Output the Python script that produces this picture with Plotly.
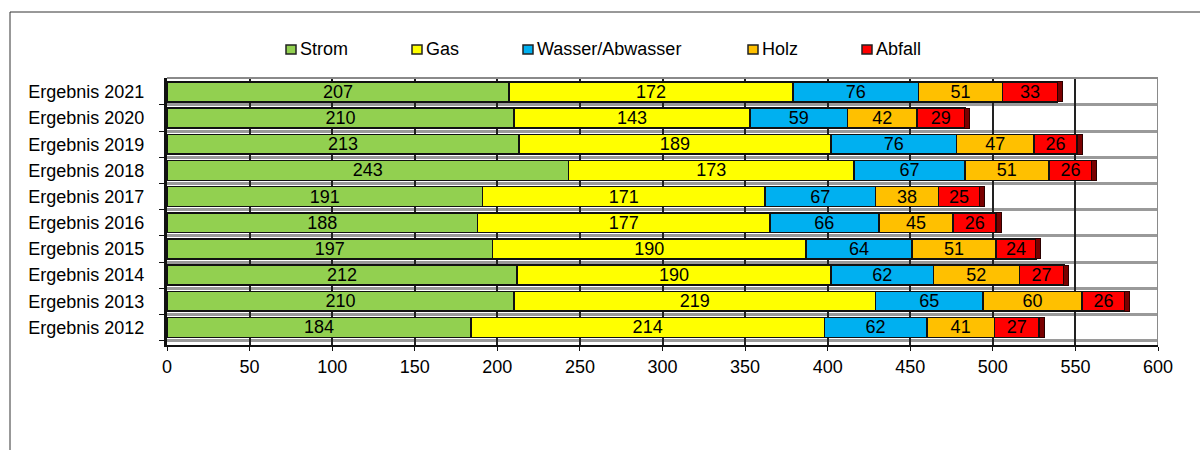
import plotly.graph_objects as go

# Jahresergebnisse, unten beginnend (2012) bis oben (2021)
jahre = ["Ergebnis 2012", "Ergebnis 2013", "Ergebnis 2014", "Ergebnis 2015",
         "Ergebnis 2016", "Ergebnis 2017", "Ergebnis 2018", "Ergebnis 2019",
         "Ergebnis 2020", "Ergebnis 2021"]

strom = [184, 210, 212, 197, 188, 191, 243, 213, 210, 207]
gas = [214, 219, 190, 190, 177, 171, 173, 189, 143, 172]
wasser = [62, 65, 62, 64, 66, 67, 67, 76, 59, 76]
holz = [41, 60, 52, 51, 45, 38, 51, 47, 42, 51]
abfall = [27, 26, 27, 24, 26, 25, 26, 26, 29, 33]

x_ticks = [0, 50, 100, 150, 200, 250, 300, 350, 400, 450, 500, 550, 600]

serien = [
    ("Strom", strom, "#92d050"),
    ("Gas", gas, "#ffff00"),
    ("Wasser/Abwasser", wasser, "#00b0f0"),
    ("Holz", holz, "#ffc000"),
    ("Abfall", abfall, "#ff0000"),
]

pos = list(range(len(jahre)))
FONT = "Liberation Sans, Arial, sans-serif"
FS = 18

# Plotbereich in Pixeln (für die Umrechnung der Legende in Papierkoordinaten)
L, R, T, B = 167, 42, 78, 105
PW, PH = 1200 - L - R, 450 - T - B


def px_x(p):
    return (p - L) / PW


def px_y(p):
    return (450 - B - p) / PH


fig = go.Figure()
for name, werte, farbe in serien:
    fig.add_trace(go.Bar(
        name=name, y=pos, x=werte, orientation="h",
        marker=dict(color=farbe, line=dict(color="#111111", width=1.5)),
        width=0.76, showlegend=False,
        text=[str(v) for v in werte], textposition="inside",
        insidetextanchor="middle", textangle=0, constraintext="none",
        textfont=dict(family=FONT, size=FS, color="#000000"),
    ))

# dunkle Seitenfläche am Ende jedes Balkens (Tiefeneffekt)
summen = [sum(t) for t in zip(strom, gas, wasser, holz, abfall)]
fig.add_trace(go.Bar(
    y=pos, x=[3] * len(pos), base=summen, orientation="h",
    marker=dict(color="#7a0000", line=dict(color="#2a0000", width=1)),
    width=0.76, showlegend=False, hoverinfo="skip",
))

fig.update_layout(
    barmode="stack",
    width=1200, height=450,
    margin=dict(l=L, r=R, t=T, b=B),
    paper_bgcolor="white", plot_bgcolor="white",
    font=dict(family=FONT, size=FS, color="#000000"),
    bargap=0.24,
    showlegend=False,
)

fig.update_xaxes(
    range=[0, 600], tickvals=x_ticks, ticktext=[str(t) for t in x_ticks],
    showgrid=True, gridcolor="#222222", gridwidth=1.5,
    showline=True, linecolor="#111111", linewidth=2,
    ticks="outside", ticklen=4, tickcolor="#111111",
    ticklabelstandoff=0, zeroline=False,
)
fig.update_yaxes(
    range=[-0.67, 9.53], tickvals=pos, ticktext=jahre,
    showgrid=False, zeroline=False,
    showline=True, linecolor="#111111", linewidth=3,
    ticks="", ticklabelstandoff=16,
    minor=dict(tickvals=[p + 0.5 for p in pos[:-1]] + [-0.5], ticks="outside",
               ticklen=5, tickcolor="#111111", showgrid=True,
               gridcolor="#9a9a9a", gridwidth=2.5),
)

# Legende: kleine Quadrate mit Beschriftung
legende_x = [286, 412, 523, 748, 862]
for (name, _, farbe), lx in zip(serien, legende_x):
    fig.add_shape(type="rect", xref="paper", yref="paper",
                  x0=px_x(lx), x1=px_x(lx + 10), y0=px_y(54), y1=px_y(45),
                  fillcolor=farbe, line=dict(color="#222222", width=1.5))
    fig.add_annotation(xref="paper", yref="paper", x=px_x(lx + 12), y=px_y(49),
                       xanchor="left", yanchor="middle", showarrow=False,
                       text=name, font=dict(family=FONT, size=FS, color="#000000"))

# Rückwand: obere und rechte Kante
fig.add_shape(type="line", xref="x", yref="paper", x0=0, x1=600, y0=1, y1=1,
              line=dict(color="#8a8a8a", width=2))
fig.add_shape(type="line", xref="x", yref="paper", x0=600, x1=600, y0=0, y1=1,
              line=dict(color="#8a8a8a", width=2))

# Diagrammrahmen
fig.add_shape(type="line", xref="paper", yref="paper",
              x0=px_x(10), x1=px_x(10), y0=px_y(460), y1=px_y(12),
              line=dict(color="#333333", width=1))
fig.add_shape(type="line", xref="paper", yref="paper",
              x0=px_x(10), x1=px_x(1210), y0=px_y(12), y1=px_y(12),
              line=dict(color="#333333", width=1))

fig.write_html("out.html")
